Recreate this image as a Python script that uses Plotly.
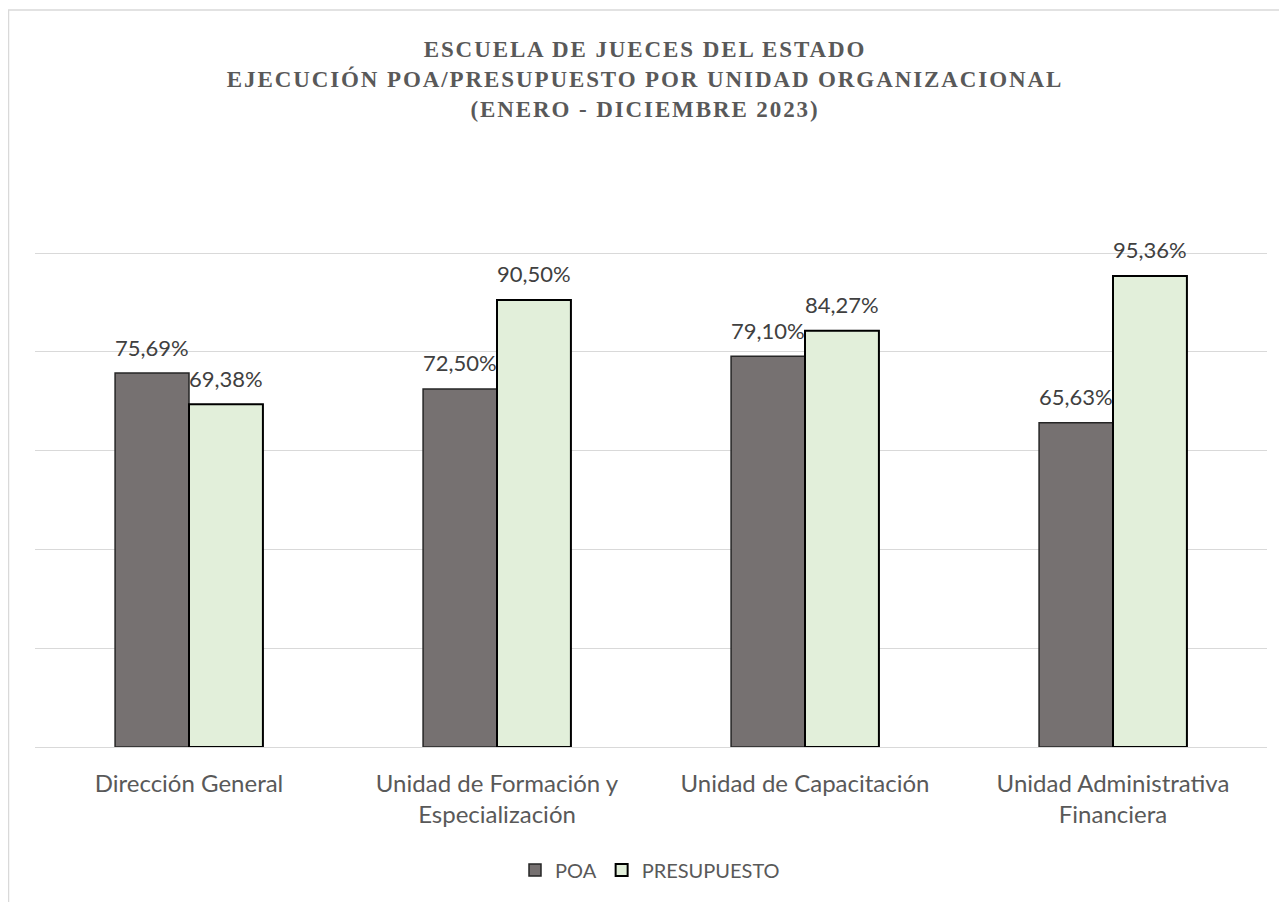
import plotly.graph_objects as go

categories = ["Dirección General", "Unidad de Formación y<br>Especialización",
              "Unidad de Capacitación", "Unidad Administrativa<br>Financiera"]
poa = [0.7569, 0.7250, 0.7910, 0.6563]
presupuesto = [0.6938, 0.9050, 0.8427, 0.9536]
series_names = ["POA", "PRESUPUESTO"]
title_lines = ["ESCUELA DE JUECES DEL ESTADO",
               "EJECUCIÓN POA/PRESUPUESTO POR UNIDAD ORGANIZACIONAL",
               "(ENERO - DICIEMBRE 2023)"]

# page has an 8px body margin; figure is sized/offset to compensate
OFF = 8
W, H = 1287 - OFF, 902 - OFF
L, R, T, B = 35 - OFF, 20, 154 - OFF, 155
pw, ph = W - L - R, H - T - B
BARGAP = 0.52
bar_px = pw / len(categories) * (1 - BARGAP) / 2

label_font = dict(family="Lato, 'Open Sans', sans-serif", size=22, color="#404040")


def fmt(v):
    return f"{v * 100:.2f}%".replace(".", ",")


fig = go.Figure()
fig.add_trace(go.Bar(
    x=categories, y=poa, name=series_names[0],
    marker=dict(color="#767171", line=dict(color="#262626", width=1.5)),
))
fig.add_trace(go.Bar(
    x=categories, y=presupuesto, name=series_names[1],
    marker=dict(color="#E2EFDA", line=dict(color="#000000", width=2)),
))

annotations = []
for series, shift in ((poa, -bar_px / 2), (presupuesto, bar_px / 2)):
    for cat, v in zip(categories, series):
        annotations.append(dict(
            x=cat, y=v, xref="x", yref="y", text=fmt(v), showarrow=False,
            xshift=shift, yshift=26, yanchor="middle", xanchor="center",
            font=label_font,
        ))

title_text = "<br>".join(
    f'<span style="letter-spacing:1.9px">{t}</span>' for t in title_lines)

fig.update_layout(
    width=W, height=H,
    margin=dict(l=L, r=R, t=T, b=B),
    paper_bgcolor="white", plot_bgcolor="white",
    barmode="group", bargap=BARGAP, bargroupgap=0,
    font=dict(family="Lato, 'Open Sans', sans-serif", color="#595959"),
    title=dict(
        text=title_text,
        x=(645 - OFF) / W, xanchor="center", xref="container",
        y=1 - 49 / H, yanchor="top", yref="container",
        font=dict(family="'Liberation Serif', 'Times New Roman', serif",
                  size=23, color="#595959", weight="bold"),
    ),
    xaxis=dict(
        showgrid=False, showline=True, linecolor="#D9D9D9", linewidth=1,
        ticks="", tickfont=dict(size=24, color="#595959"),
        ticklabelstandoff=15,
    ),
    yaxis=dict(
        range=[0, 1.2005], dtick=0.2, showgrid=True, gridcolor="#D9D9D9",
        gridwidth=1, showticklabels=False, zeroline=False, showline=False,
    ),
    legend=dict(
        orientation="h", x=(650 - OFF - L) / pw, xanchor="center",
        y=-(870 - 747) / ph, yanchor="middle",
        font=dict(size=20, color="#595959"), traceorder="normal",
    ),
    annotations=annotations,
    shapes=[dict(
        type="rect", xref="paper", yref="paper",
        x0=(0.5 - L) / pw, x1=(W + 20 - L) / pw,
        y0=-(H + 20 - (H - B)) / ph, y1=(H - B - (10 - OFF)) / ph,
        line=dict(color="#D9D9D9", width=1.5), fillcolor="rgba(0,0,0,0)",
        layer="below",
    )],
)

fig.write_html("out.html")
